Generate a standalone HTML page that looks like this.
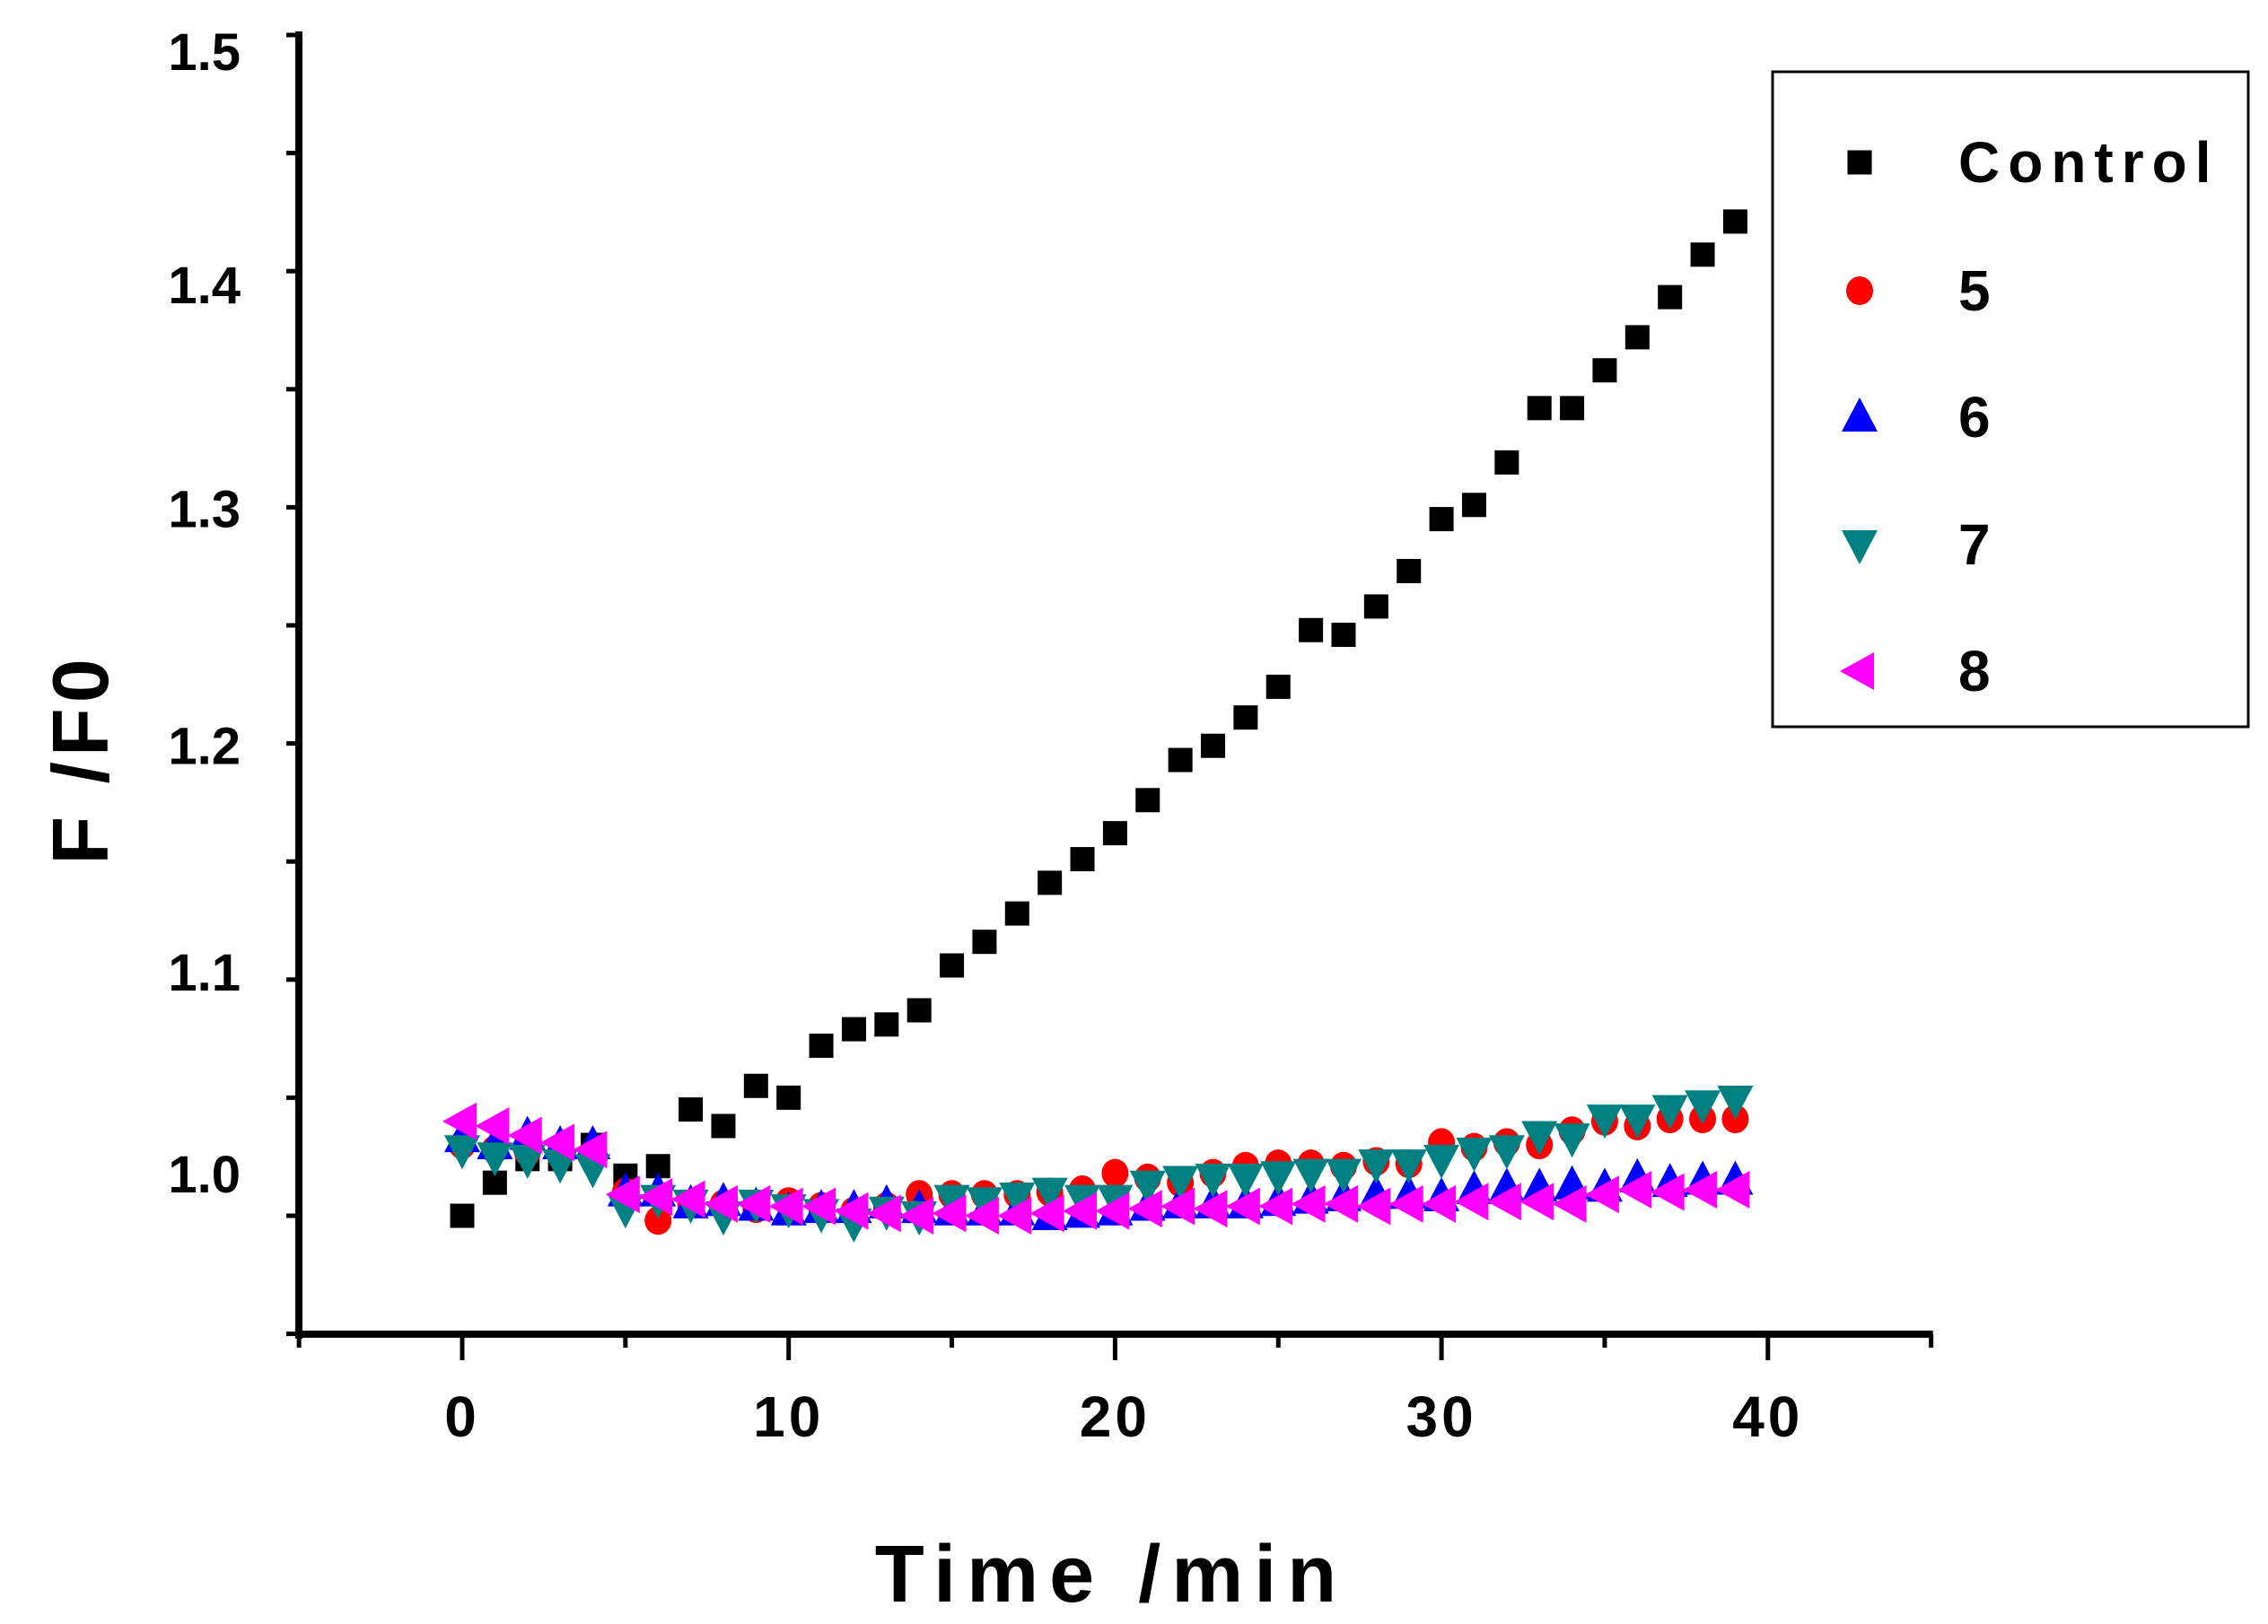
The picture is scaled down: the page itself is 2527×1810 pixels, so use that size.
<!DOCTYPE html>
<html><head><meta charset="utf-8"><style>html,body{margin:0;padding:0;background:#fff}svg{display:block}text{font-family:"Liberation Sans",sans-serif;font-weight:bold;fill:#000}</style></head>
<body>
<svg id="chart" width="2527" height="1810" viewBox="0 0 2527 1810" xmlns="http://www.w3.org/2000/svg">
<g id="axes"></g>
<g id="marks"></g>
<g id="legend"></g>
</svg>
<script>
const times = Array.from({length:40},(_, i)=>i);
const control = [1.0,1.014,1.024,1.024,1.03,1.017,1.021,1.045,1.038,1.055,1.05,1.072,1.079,1.081,1.087,1.106,1.116,1.128,1.141,1.151,1.162,1.176,1.193,1.199,1.211,1.224,1.248,1.246,1.258,1.273,1.295,1.301,1.319,1.342,1.342,1.358,1.372,1.389,1.407,1.421];
const s5 = [1.03,1.028,1.027,1.026,1.025,1.01,0.998,1.005,1.005,1.003,1.006,1.004,1.002,1.004,1.009,1.009,1.009,1.009,1.01,1.011,1.018,1.016,1.014,1.018,1.021,1.022,1.022,1.021,1.023,1.022,1.031,1.029,1.031,1.03,1.036,1.04,1.038,1.041,1.041,1.041];
const s6 = [1.033,1.03,1.034,1.03,1.03,1.01,1.01,1.005,1.006,1.004,1.002,1.003,1.003,1.005,1.003,1.002,1.002,1.002,1.0,1.001,1.002,1.004,1.005,1.005,1.005,1.006,1.007,1.008,1.009,1.009,1.008,1.011,1.012,1.012,1.013,1.012,1.016,1.014,1.015,1.015];
const s7 = [1.028,1.025,1.024,1.022,1.02,1.003,1.007,1.005,1.0,1.005,1.003,1.001,0.997,1.002,1.0,1.007,1.006,1.008,1.01,1.007,1.007,1.013,1.015,1.016,1.016,1.017,1.018,1.018,1.022,1.022,1.024,1.027,1.028,1.034,1.033,1.041,1.041,1.045,1.047,1.049];
const s8 = [1.04,1.038,1.034,1.031,1.028,1.009,1.008,1.007,1.005,1.005,1.004,1.004,1.002,1.001,1.0,1.001,1.0,1.0,1.001,1.002,1.002,1.003,1.004,1.003,1.004,1.004,1.005,1.005,1.004,1.005,1.005,1.006,1.006,1.006,1.005,1.009,1.011,1.01,1.011,1.011];
const yTicks = [1.0,1.1,1.2,1.3,1.4,1.5];
const yTickLabels = ["1.0","1.1","1.2","1.3","1.4","1.5"];
const xTicks = [0,10,20,30,40];
const xTickLabels = ["0","10","20","30","40"];
const legendLabels = ["Control","5","6","7","8"];

const NS="http://www.w3.org/2000/svg";
const X = t => 515 + (t)*36.37;
const Y = v => 1355 - (v-1.0)*2632;
function mk(tag, attrs, parent){const e=document.createElementNS(NS,tag);for(const k in attrs)e.setAttribute(k,attrs[k]);parent.appendChild(e);return e;}
const axes=document.getElementById('axes'), marks=document.getElementById('marks'), legend=document.getElementById('legend');

let l=mk('line',{x1:333,y1:35,x2:333,y2:1492,stroke:'#000','stroke-width':8},axes);


l=mk('line',{x1:333,y1:1487,x2:X(45)+2,y2:1487,stroke:'#000','stroke-width':8},axes);


for(let i=0;i<=11;i++){const v=0.95+i*0.05;const t=mk('line',{x1:319,y1:Y(v),x2:333,y2:Y(v),stroke:'#000','stroke-width':5},axes);

}
const yLabOff=[-48,-10,1,0,14,17];
yTicks.forEach((v,i)=>{const t=mk('text',{x:268,y:Y(v)+yLabOff[i]+22,'text-anchor':'end','font-size':58},axes);t.textContent=yTickLabels[i];

});
for(let i=-5;i<=45;i+=5){const major=(i%10===0);const t=mk('line',{x1:X(i),y1:1487,x2:X(i),y2:major?1516:1502,stroke:'#000','stroke-width':5},axes);

}
xTicks.forEach((v,i)=>{const t=mk('text',{x:X(v),y:1601,'text-anchor':'middle','font-size':64,'letter-spacing':4},axes);t.textContent=xTickLabels[i];

});
let tt=mk('text',{x:1238,y:1785,'text-anchor':'middle','font-size':90,'letter-spacing':12},axes);tt.textContent='Time /min';


tt=mk('text',{x:0,y:0,'text-anchor':'middle','font-size':88,'letter-spacing':6,transform:'translate(120,846) rotate(-90)'},axes);tt.textContent='F /F0';



function marker(kind,cx,cy,parent){
  let e;
  if(kind==='square') e=mk('rect',{x:cx-13.5,y:cy-13.5,width:27,height:27,fill:'#000'},parent);
  else if(kind==='circle') e=mk('ellipse',{cx:cx,cy:cy,rx:15,ry:16,fill:'#ff0000'},parent);
  else if(kind==='up') e=mk('polygon',{points:`${cx},${cy-22} ${cx-20},${cy+16} ${cx+20},${cy+16}`,fill:'#0000ff'},parent);
  else if(kind==='down') e=mk('polygon',{points:`${cx},${cy+22} ${cx-20},${cy-16} ${cx+20},${cy-16}`,fill:'#008080'},parent);
  else e=mk('polygon',{points:`${cx-22},${cy} ${cx+16},${cy-21} ${cx+16},${cy+21}`,fill:'#ff00ff'},parent);
  return e;
}
const series=[['control',control,'square'],['s5',s5,'circle'],['s6',s6,'up'],['s7',s7,'down'],['s8',s8,'left']];
series.forEach(([name,vals,kind])=>{
  const g=mk('g',{},marks);
  
  
  vals.forEach((v,i)=>{const m=marker(kind,X(times[i]),Y(v),g);
    
    });
});
const box=mk('rect',{x:1975,y:80,width:530,height:730,fill:'#fff',stroke:'#000','stroke-width':3},legend);


const legY=[181,324,465,607,748];
series.forEach(([name,vals,kind],i)=>{
  const g=mk('g',{},legend);
  
  
  marker(kind,2072,legY[i],g);
  const t=mk('text',{x:2182,y:legY[i]+22,'font-size':64,'letter-spacing':i===0?9:0},g);t.textContent=legendLabels[i];
});
</script>
</body></html>
